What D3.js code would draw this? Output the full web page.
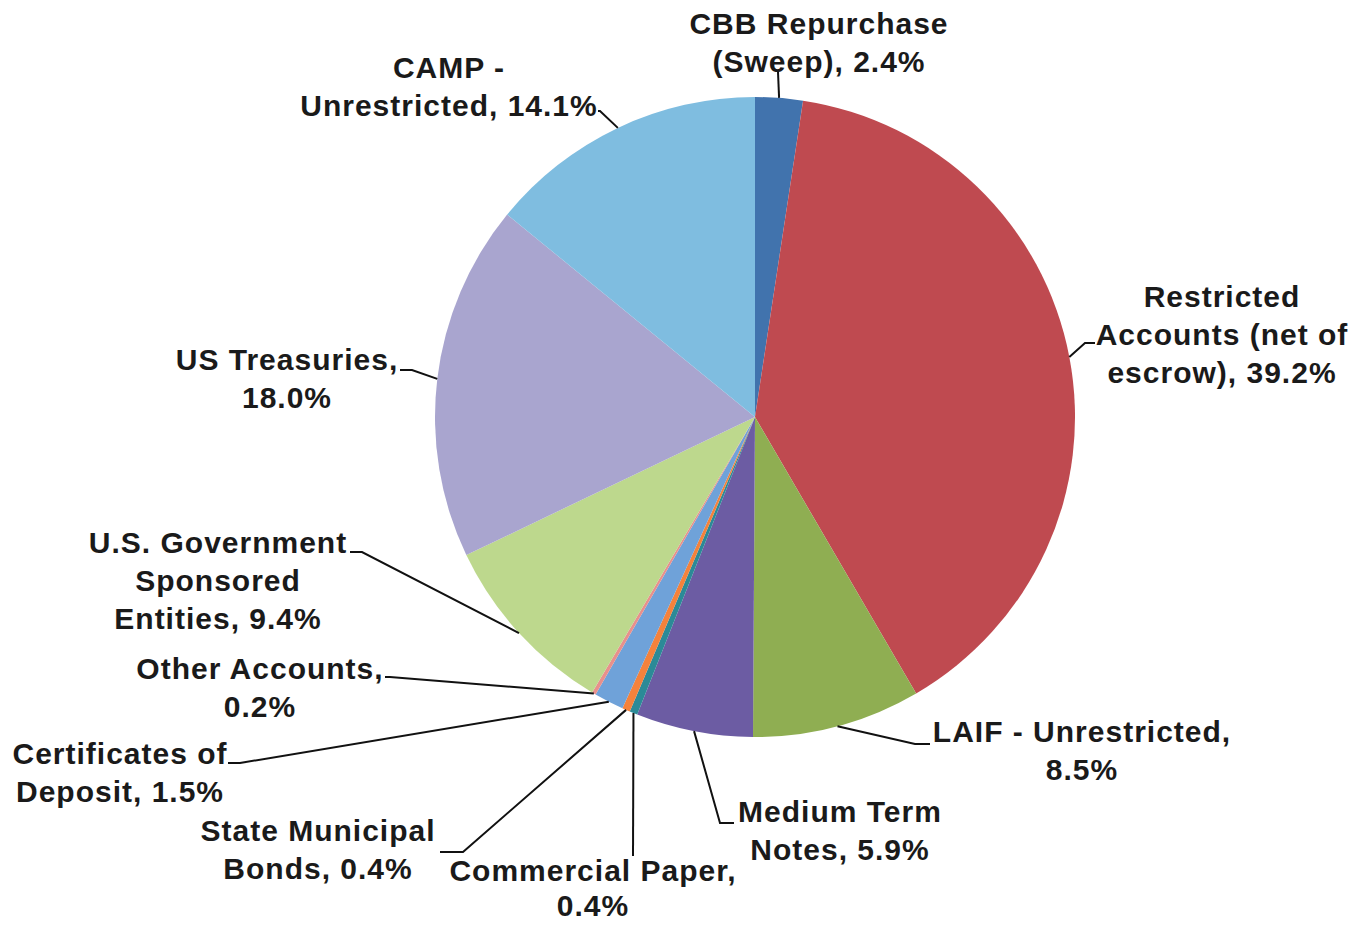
<!DOCTYPE html>
<html>
<head>
<meta charset="utf-8">
<script src="https://cdn.jsdelivr.net/npm/d3@7"></script>
<style>
  body { margin: 0; background: #fff; }
  text { font-family: "Liberation Sans", Arial, sans-serif; font-weight: bold; fill: #1a1a1a; }
</style>
</head>
<body>
<svg id="chart" width="1359" height="926"></svg>
<script>
// data
var categories = ["CBB Repurchase (Sweep)", "Restricted Accounts (net of escrow)", "LAIF - Unrestricted",
    "Medium Term Notes", "Commercial Paper", "State Municipal Bonds", "Certificates of Deposit",
    "Other Accounts", "U.S. Government Sponsored Entities", "US Treasuries", "CAMP - Unrestricted"];
var values = [2.4, 39.2, 8.5, 5.9, 0.4, 0.4, 1.5, 0.2, 9.4, 18.0, 14.1];
var labelLines = [
    ["CBB Repurchase", "(Sweep), 2.4%"],
    ["Restricted", "Accounts (net of", "escrow), 39.2%"],
    ["LAIF - Unrestricted,", "8.5%"],
    ["Medium Term", "Notes, 5.9%"],
    ["Commercial Paper,", "0.4%"],
    ["State Municipal", "Bonds, 0.4%"],
    ["Certificates of", "Deposit, 1.5%"],
    ["Other Accounts,", "0.2%"],
    ["U.S. Government", "Sponsored", "Entities, 9.4%"],
    ["US Treasuries,", "18.0%"],
    ["CAMP -", "Unrestricted, 14.1%"]
];
var colors = ["#4173ad", "#bf4a50", "#8fae52", "#6c5ca3", "#2b8a97", "#f4823c",
    "#6fa2d9", "#e8908c", "#bdd88d", "#a9a5cf", "#7fbde0"];

// layout: label center x, first baseline y, line gap; leader elbow point and end
var labelPos = [
    {x: 819, y: 34, lh: 38, ex: 778, ey: 72, hx: 778},
    {x: 1222, y: 307, lh: 38, ex: 1085, ey: 343, hx: 1095},
    {x: 1082, y: 742, lh: 38, ex: 915, ey: 744, hx: 930},
    {x: 840, y: 822, lh: 38, ex: 720, ey: 823, hx: 734},
    {x: 593, y: 881, lh: 35, ex: 633, ey: 856, hx: 633},
    {x: 318, y: 841, lh: 38, ex: 463, ey: 852, hx: 440},
    {x: 120, y: 764, lh: 38, ex: 240, ey: 763, hx: 228},
    {x: 260, y: 679, lh: 38, ex: 390, ey: 677, hx: 385},
    {x: 218, y: 553, lh: 38, ex: 362, ey: 552, hx: 350},
    {x: 287, y: 370, lh: 38, ex: 412, ey: 370, hx: 400},
    {x: 449, y: 78, lh: 38, ex: 600, ey: 111, hx: 598}
];

var cx = 755, cy = 417, r = 320;

var svg = d3.select("#chart");
var g = svg.append("g").attr("transform", "translate(" + cx + "," + cy + ")");

var pie = d3.pie().sort(null).value(function (d) { return d; });
var arcs = pie(values);
var arc = d3.arc().innerRadius(0).outerRadius(r);
var edge = d3.arc().innerRadius(r).outerRadius(r);

g.selectAll("path.slice")
    .data(arcs)
    .enter()
    .append("path")
    .attr("class", "slice")
    .attr("d", arc)
    .attr("fill", function (d, i) { return colors[i]; });

// leader lines
g.selectAll("polyline")
    .data(arcs)
    .enter()
    .append("polyline")
    .attr("points", function (d, i) {
        var c = edge.centroid(d);
        var p = labelPos[i];
        return [c, [p.ex - cx, p.ey - cy], [p.hx - cx, p.ey - cy]].join(" ");
    })
    .attr("fill", "none")
    .attr("stroke", "#111")
    .attr("stroke-width", 2);

// labels
var labels = svg.selectAll("text.lbl")
    .data(categories)
    .enter()
    .append("text")
    .attr("class", "lbl")
    .attr("text-anchor", "middle")
    .attr("font-size", "30px")
    .attr("letter-spacing", "1px");

labels.each(function (d, i) {
    var t = d3.select(this);
    labelLines[i].forEach(function (s, k) {
        t.append("tspan")
            .attr("x", labelPos[i].x)
            .attr("y", labelPos[i].y + k * labelPos[i].lh)
            .text(s);
    });
});
</script>
</body>
</html>
